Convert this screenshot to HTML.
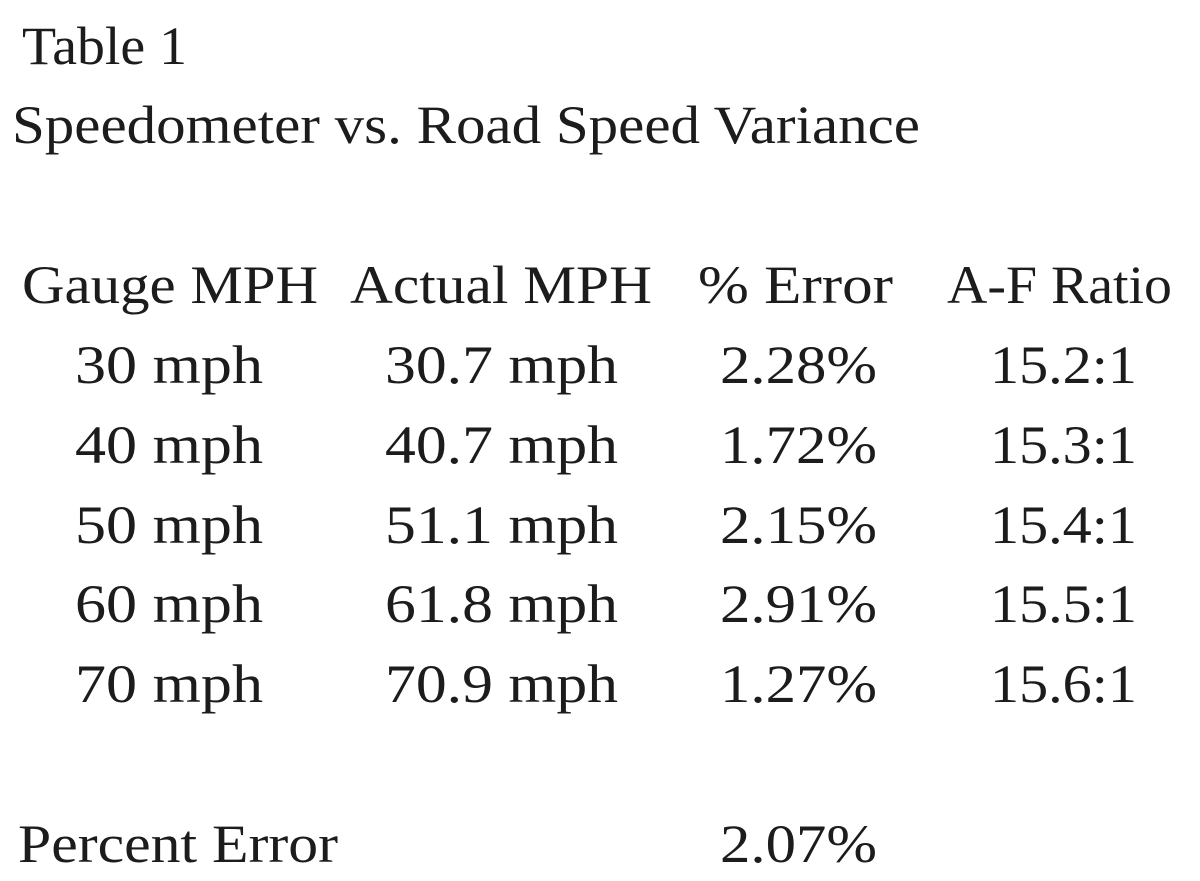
<!DOCTYPE html>
<html><head><meta charset="utf-8"><style>
html,body{margin:0;padding:0;background:#fff;width:1200px;height:881px;overflow:hidden}
svg text{font-family:"Liberation Serif",serif;fill:#1c1c1c;font-size:54px}
</style></head><body>
<svg width="1200" height="881" xmlns="http://www.w3.org/2000/svg">
<text x="22" y="64" textLength="165" lengthAdjust="spacingAndGlyphs">Table 1</text>
<text x="12" y="143" textLength="908" lengthAdjust="spacingAndGlyphs">Speedometer vs. Road Speed Variance</text>
<text x="22" y="303" textLength="296" lengthAdjust="spacingAndGlyphs">Gauge MPH</text>
<text x="350" y="303" textLength="302" lengthAdjust="spacingAndGlyphs">Actual MPH</text>
<text x="698" y="303" textLength="195" lengthAdjust="spacingAndGlyphs">% Error</text>
<text x="947" y="303" textLength="225" lengthAdjust="spacingAndGlyphs">A-F Ratio</text>
<g>
<text x="75" y="383" textLength="188" lengthAdjust="spacingAndGlyphs">30 mph</text>
<text x="385" y="383" textLength="233" lengthAdjust="spacingAndGlyphs">30.7 mph</text>
<text x="720" y="383" textLength="157" lengthAdjust="spacingAndGlyphs">2.28%</text>
<text x="990" y="383" textLength="147" lengthAdjust="spacingAndGlyphs">15.2:1</text>
<text x="75" y="463" textLength="188" lengthAdjust="spacingAndGlyphs">40 mph</text>
<text x="385" y="463" textLength="233" lengthAdjust="spacingAndGlyphs">40.7 mph</text>
<text x="720" y="463" textLength="157" lengthAdjust="spacingAndGlyphs">1.72%</text>
<text x="990" y="463" textLength="147" lengthAdjust="spacingAndGlyphs">15.3:1</text>
<text x="75" y="543" textLength="188" lengthAdjust="spacingAndGlyphs">50 mph</text>
<text x="385" y="543" textLength="233" lengthAdjust="spacingAndGlyphs">51.1 mph</text>
<text x="720" y="543" textLength="157" lengthAdjust="spacingAndGlyphs">2.15%</text>
<text x="990" y="543" textLength="147" lengthAdjust="spacingAndGlyphs">15.4:1</text>
<text x="75" y="622" textLength="188" lengthAdjust="spacingAndGlyphs">60 mph</text>
<text x="385" y="622" textLength="233" lengthAdjust="spacingAndGlyphs">61.8 mph</text>
<text x="720" y="622" textLength="157" lengthAdjust="spacingAndGlyphs">2.91%</text>
<text x="990" y="622" textLength="147" lengthAdjust="spacingAndGlyphs">15.5:1</text>
<text x="75" y="702" textLength="188" lengthAdjust="spacingAndGlyphs">70 mph</text>
<text x="385" y="702" textLength="233" lengthAdjust="spacingAndGlyphs">70.9 mph</text>
<text x="720" y="702" textLength="157" lengthAdjust="spacingAndGlyphs">1.27%</text>
<text x="990" y="702" textLength="147" lengthAdjust="spacingAndGlyphs">15.6:1</text>
</g>
<text x="18" y="862" textLength="320" lengthAdjust="spacingAndGlyphs">Percent Error</text>
<text x="720" y="862" textLength="157" lengthAdjust="spacingAndGlyphs">2.07%</text>
</svg>
</body></html>
